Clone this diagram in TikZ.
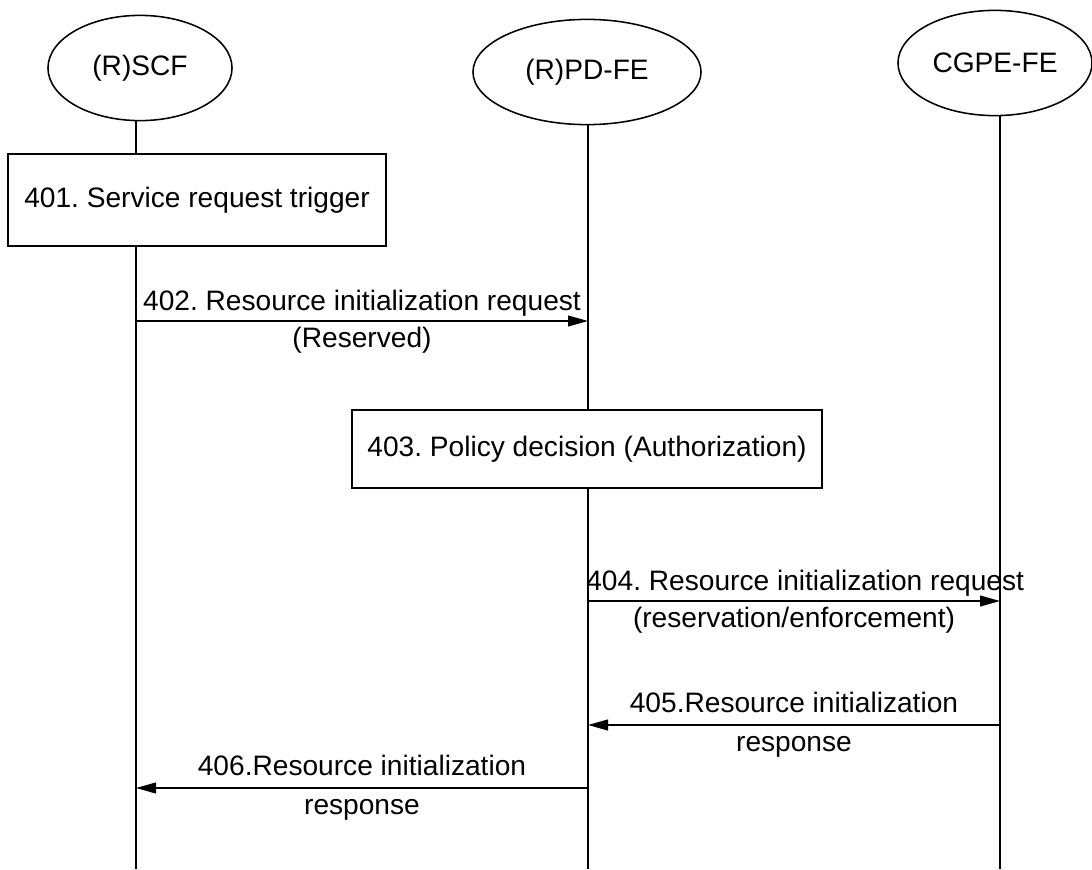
\documentclass[tikz,border=0pt]{standalone}
\usepackage{fontspec}
\setmainfont{Liberation Sans}
\usetikzlibrary{shapes.geometric, arrows.meta, positioning}
\frenchspacing
\tikzset{
  entity/.style={ellipse, draw, line width=1.1pt, minimum height=2.63cm, inner sep=0pt},
  stepbox/.style={draw, line width=1.1pt, inner sep=0pt},
  lifeline/.style={line width=1.1pt},
  msg/.style={-{Triangle[length=5mm, width=2.7mm]}, line width=1.1pt},
  msglbl/.style={inner sep=1pt, align=center, text height=15pt, text depth=5pt},
}

\begin{document}
\begin{tikzpicture}[x=0.025cm, y=-0.025cm, every node/.style={font=\fontsize{20}{23}\selectfont}]
  \useasboundingbox (0,0) rectangle (1092,869);
  % functional entities
  \node[entity, minimum width=4.6cm] (scf) at (140,68) {(R)SCF};
  \node[entity, minimum width=5.7cm] (pdfe) at (587,72) {(R)PD-FE};
  \node[entity, minimum width=4.85cm] (cgpe) at (995,63) {CGPE-FE};
  % steps
  \node[stepbox, minimum width=9.45cm, minimum height=2.3cm] (s401) at (197,200) {401. Service request trigger};
  \node[stepbox, minimum width=11.75cm, minimum height=1.95cm] (s403) at (587,449) {403. Policy decision (Authorization)};
  % lifeline ends
  \coordinate (scfend) at (136,869);
  \coordinate (pdfeend) at (588,869);
  \coordinate (cgpeend) at (1000,869);
  \draw[lifeline] (scf.south -| scfend) -- (scfend |- s401.north);
  \draw[lifeline] (scfend |- s401.south) -- (scfend);
  \draw[lifeline] (pdfe.south -| pdfeend) -- (pdfeend |- s403.north);
  \draw[lifeline] (pdfeend |- s403.south) -- (pdfeend);
  \draw[lifeline] (cgpe.south -| cgpeend) -- (cgpeend);
  % messages
  \coordinate (m402a) at (136,321);  \coordinate (m402b) at (588,321);
  \coordinate (m404a) at (588,601);  \coordinate (m404b) at (1000,601);
  \coordinate (m405a) at (1000,725); \coordinate (m405b) at (588,725);
  \coordinate (m406a) at (588,788);  \coordinate (m406b) at (136,788);
  \draw[msg] (m402a) -- node[msglbl, above=1pt] (l402) {402. Resource initialization request}
    node[msglbl, below=2pt] (l402b) {(Reserved)} (m402b);
  \draw[msg] (m404a) -- node[msglbl, above=1pt, xshift=0.28cm] (l404) {404. Resource initialization request}
    node[msglbl, below=2pt] (l404b) {(reservation/enforcement)} (m404b);
  \draw[msg] (m405a) -- node[msglbl, above=2pt] (l405) {405.Resource initialization}
    node[msglbl, below=2pt] (l405b) {response} (m405b);
  \draw[msg] (m406a) -- node[msglbl, above=2pt] (l406) {406.Resource initialization}
    node[msglbl, below=2pt] (l406b) {response} (m406b);
\end{tikzpicture}
\end{document}
